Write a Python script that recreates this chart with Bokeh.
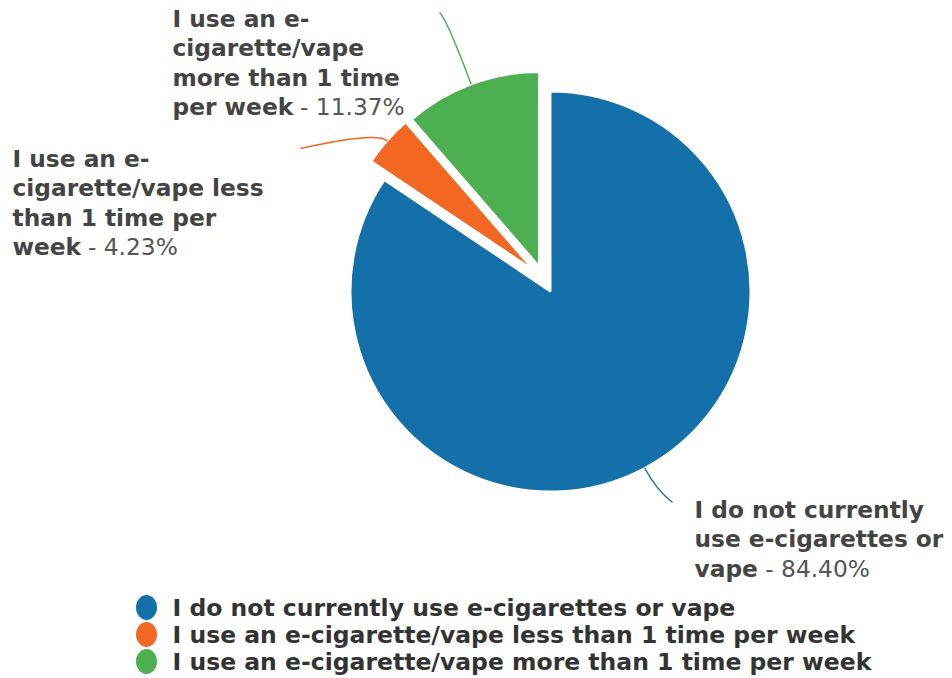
import numpy as np
from bokeh.plotting import figure
from bokeh.models import Range1d, ColumnDataSource
from bokeh.embed import file_html
from bokeh.resources import INLINE
from bokeh.core.properties import value

# ---------------- data ----------------
categories = [
    "I do not currently use e-cigarettes or vape",
    "I use an e-cigarette/vape less than 1 time per week",
    "I use an e-cigarette/vape more than 1 time per week",
]
percentages = [84.40, 4.23, 11.37]
colors = ["#1470A8", "#F26822", "#4CAF50"]
label_lines = [
    ["I do not currently", "use e-cigarettes or", "vape"],
    ["I use an e-", "cigarette/vape less", "than 1 time per", "week"],
    ["I use an e-", "cigarette/vape", "more than 1 time", "per week"],
]

# ---------------- layout ----------------
W, H = 952, 678
CX, CY = 543.4, 278.7          # pie centre (screen px)
RADII = [200.0, 195.0, 194.0]
EXPLODE = 14.0
LABEL_ANCHOR = [(694, 509), (12, 158), (172, 18)]   # screen px, first line centre
LINE_PITCH = 29.3
LEADER_K = [25, 14, 70]
LEADER_END = [(672, 502), (300, 148), (439, 12)]
LABEL_SIZE = 23.3
LEG_X, LEG_Y0, LEG_DY = 146, 607, 27

def Y(ys):
    return H - ys

# DejaVu Sans Bold / Book advance widths (units / 2048)
ADV = {" ": 713, "a": 1382, "e": 1389, "k": 1364, "p": 1466, "r": 1011,
       "v": 1331, "w": 1839}
SPACE_BOOK = 651

def bold_width(s, size):
    return sum(ADV.get(c, 1350) for c in s) / 2048.0 * size

p = figure(width=W, height=H, x_range=Range1d(0, W), y_range=Range1d(0, H),
           output_backend="svg", toolbar_location=None,
           x_axis_location=None, y_axis_location=None, min_border=0)
p.grid.visible = False
p.outline_line_color = None
p.background_fill_color = "white"
p.border_fill_color = "white"

frac = np.array(percentages) / 100.0
cum = np.concatenate([[0], np.cumsum(frac)])
start = np.pi / 2 - 2 * np.pi * cum[:-1]
end = np.pi / 2 - 2 * np.pi * cum[1:]
mid = (start + end) / 2

ax = CX + EXPLODE * np.cos(mid)
ay = Y(CY) + EXPLODE * np.sin(mid)

src = ColumnDataSource(dict(x=ax, y=ay, r=RADII, start=start, end=end, color=colors))
p.wedge(x="x", y="y", radius="r", start_angle="start", end_angle="end",
        direction="clock", fill_color="color", line_color="white",
        line_width=2, source=src)

# leader lines
for i in range(3):
    ex = ax[i] + RADII[i] * np.cos(mid[i])
    ey = ay[i] + RADII[i] * np.sin(mid[i])
    kx = ex + LEADER_K[i] * np.cos(mid[i])
    ky = ey + LEADER_K[i] * np.sin(mid[i])
    tx, ty = LEADER_END[i][0], Y(LEADER_END[i][1])
    p.quadratic(x0=[ex], y0=[ey], x1=[tx], y1=[ty], cx=[kx], cy=[ky],
                line_color=colors[i], line_width=1.5)

# labels
for i in range(3):
    x0, y0 = LABEL_ANCHOR[i]
    lines = label_lines[i]
    ys = [Y(y0 + k * LINE_PITCH) for k in range(len(lines))]
    p.text(x=[x0] * len(lines), y=ys, text=lines,
           text_font=value("DejaVu Sans"), text_font_style="bold",
           text_font_size=f"{LABEL_SIZE}px", text_color="#444444",
           text_align="left", text_baseline="middle")
    suffix = f"- {percentages[i]:.2f}%"
    sx = x0 + bold_width(lines[-1], LABEL_SIZE) + SPACE_BOOK / 2048.0 * LABEL_SIZE
    p.text(x=[sx], y=[ys[-1]], text=[suffix],
           text_font=value("DejaVu Sans"), text_font_style="normal",
           text_font_size=f"{LABEL_SIZE}px", text_color="#555555",
           text_align="left", text_baseline="middle")

# legend
leg_y = [Y(LEG_Y0 + k * LEG_DY) for k in range(3)]
p.ellipse(x=[LEG_X] * 3, y=leg_y, width=21, height=25, fill_color=colors,
          line_color=None)
p.text(x=[LEG_X + 26] * 3, y=leg_y, text=categories,
       text_font=value("DejaVu Sans"), text_font_style="bold",
       text_font_size="23.5px", text_color="#333333",
       text_align="left", text_baseline="middle")

open("out.html", "w").write(file_html(p, INLINE))
